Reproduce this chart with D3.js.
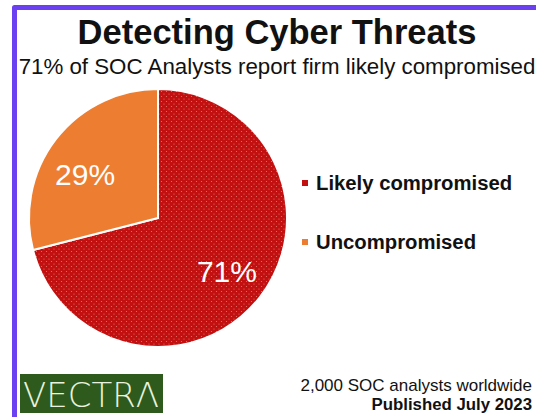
<!DOCTYPE html>
<html>
<head>
<meta charset="utf-8">
<script src="https://cdn.jsdelivr.net/npm/d3@7"></script>
<style>
  html, body { margin: 0; padding: 0; background: #ffffff; }
  svg { display: block; }
</style>
</head>
<body>
<script>
// ---- data ----
const categories = ["Likely compromised", "Uncompromised"];
const values = [71, 29];
const valueLabels = ["71%", "29%"];
const colors = ["#c20f0f", "#ed7d31"];
const title = "Detecting Cyber Threats";
const subtitle = "71% of SOC Analysts report firm likely compromised";
const footer1 = "2,000 SOC analysts worldwide";
const footer2 = "Published July 2023";
const logoText = "VECTRΛ";

const W = 536, H = 417;
const svg = d3.select("body").append("svg").attr("width", W).attr("height", H);
const font = "'Liberation Sans', Arial, sans-serif";

// dotted pattern for red slice
const defs = svg.append("defs");
const pat = defs.append("pattern").attr("id", "dots").attr("patternUnits", "userSpaceOnUse")
  .attr("width", 5).attr("height", 5);
pat.append("rect").attr("width", 5).attr("height", 5).attr("fill", colors[0]);
pat.append("circle").attr("cx", 1).attr("cy", 1).attr("r", 0.6).attr("fill", "#e87a6f");
pat.append("circle").attr("cx", 3.5).attr("cy", 3.5).attr("r", 0.6).attr("fill", "#e87a6f");

// frame
svg.append("path").attr("d", "M14.5,417 V7.5 H536")
  .attr("fill", "none").attr("stroke", "#6a40f0").attr("stroke-width", 5)
  .attr("stroke-linejoin", "round");

// title
svg.append("text").attr("x", 277).attr("y", 44).attr("text-anchor", "middle")
  .attr("font-family", font).attr("font-weight", "bold").attr("font-size", 34.5)
  .attr("fill", "#111").text(title);
svg.append("text").attr("x", 277).attr("y", 74).attr("text-anchor", "middle")
  .attr("font-family", font).attr("font-size", 22.3).attr("fill", "#111").text(subtitle);

// pie
const cx = 158, cy = 218, r = 129;
const pie = d3.pie().sort(null).value(d => d)(values);
const arc = d3.arc().innerRadius(0).outerRadius(r);
const labelArc = d3.arc().innerRadius(86).outerRadius(86);
const labelNudge = [[1, 0], [-5, 9]];
const g = svg.append("g").attr("transform", `translate(${cx},${cy})`);
g.selectAll("path.slice").data(pie).join("path")
  .attr("class", "slice")
  .attr("d", arc)
  .attr("fill", (d, i) => i === 0 ? "url(#dots)" : colors[i])
  .attr("stroke", "#fff").attr("stroke-width", 2).attr("stroke-linejoin", "round");
g.selectAll("text.lbl").data(pie).join("text")
  .attr("class", "lbl")
  .attr("transform", (d, i) => {
    const c = labelArc.centroid(d);
    return `translate(${c[0] + labelNudge[i][0]},${c[1] + labelNudge[i][1]})`;
  })
  .attr("text-anchor", "middle").attr("dy", "0.36em")
  .attr("font-family", font).attr("font-size", 30).attr("fill", "#fff")
  .text((d, i) => valueLabels[i]);

// legend
const legY = d3.scalePoint().domain(categories).range([190, 249]);
const leg = svg.append("g");
categories.forEach((c, i) => {
  leg.append("rect").attr("x", 302).attr("y", legY(c) - 10).attr("width", 6).attr("height", 6)
    .attr("fill", colors[i]);
  leg.append("text").attr("x", 316).attr("y", legY(c))
    .attr("font-family", font).attr("font-weight", "bold").attr("font-size", 20.3)
    .attr("fill", "#111").text(c);
});

// footer
svg.append("text").attr("x", 532).attr("y", 391).attr("text-anchor", "end")
  .attr("font-family", font).attr("font-size", 17).attr("fill", "#111").text(footer1);
svg.append("text").attr("x", 532).attr("y", 410).attr("text-anchor", "end")
  .attr("font-family", font).attr("font-weight", "bold").attr("font-size", 16.8)
  .attr("fill", "#111").text(footer2);

// logo
svg.append("rect").attr("x", 20).attr("y", 374).attr("width", 143).attr("height", 39).attr("fill", "#2e5a1e");
svg.append("text").attr("x", 23).attr("y", 407)
  .attr("font-family", "'DejaVu Sans', sans-serif").attr("font-weight", 300).attr("font-size", 34)
  .attr("textLength", 136).attr("lengthAdjust", "spacingAndGlyphs")
  .attr("fill", "#e8f2dc").text(logoText);
</script>
</body>
</html>
